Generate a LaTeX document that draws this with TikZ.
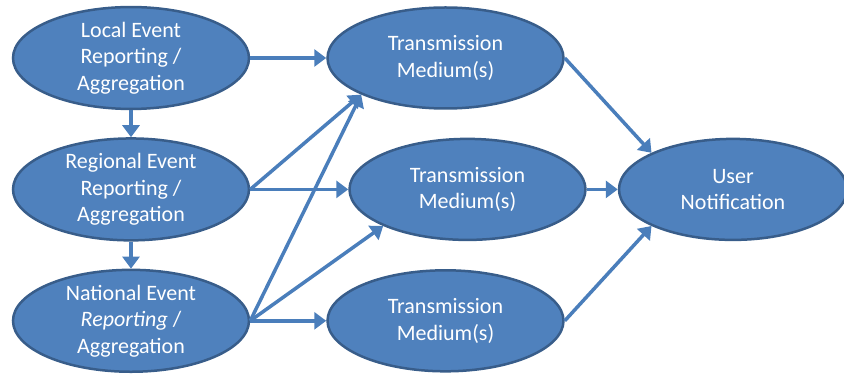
\documentclass[tikz,border=0pt]{standalone}
\usepackage{fontspec}
\setmainfont{Carlito}
\usepackage{xcolor}
\usepackage{tikz}
\usetikzlibrary{shapes.geometric, arrows.meta, positioning}
\definecolor{evfill}{HTML}{4F81BD}
\definecolor{evline}{HTML}{385D8A}
\definecolor{evarrow}{HTML}{4A7EBB}
\tikzset{
  evt/.style={ellipse, draw=evline, line width=2.5pt, fill=evfill, text=white,
    align=center, inner sep=0pt, minimum width=236pt, minimum height=101pt,
    font=\fontsize{22}{26.5}\selectfont},
  ar/.style={-{Triangle[length=12pt, width=17pt]}, line width=3.5pt, evarrow},
}

\begin{document}
\begin{tikzpicture}[node distance=27pt and 76pt]
  \useasboundingbox (-131pt,58pt) rectangle (713pt,-321pt);
  \node[evt] (local) {Local Event\\Reporting /\\Aggregation};
  \node[evt, below=of local] (regional) {Regional Event\\Reporting /\\Aggregation};
  \node[evt, below=of regional] (national) {National Event\\\textit{Reporting} /\\Aggregation};

  \node[evt, right=of local] (tmtop) {Transmission\\Medium(s)};
  \node[evt, right=98pt of regional] (tmmid) {Transmission\\Medium(s)};
  \node[evt, right=of national] (tmbot) {Transmission\\Medium(s)};

  \node[evt, minimum width=228pt, right=31pt of tmmid] (user) {User\\Notification};

  \draw[ar] (local) -- (tmtop);
  \draw[ar] (local) -- (regional);
  \draw[ar] (regional) -- (national);
  \draw[ar] (regional.east) -- (tmtop.south west);
  \draw[ar] (regional) -- (tmmid);
  \draw[ar] (national.east) -- (tmtop.south west);
  \draw[ar] (national.east) -- (tmmid.south west);
  \draw[ar] (national) -- (tmbot);
  \draw[ar] (tmtop.east) -- (user.north west);
  \draw[ar] (tmmid) -- (user);
  \draw[ar] (tmbot.east) -- (user.south west);
\end{tikzpicture}
\end{document}
